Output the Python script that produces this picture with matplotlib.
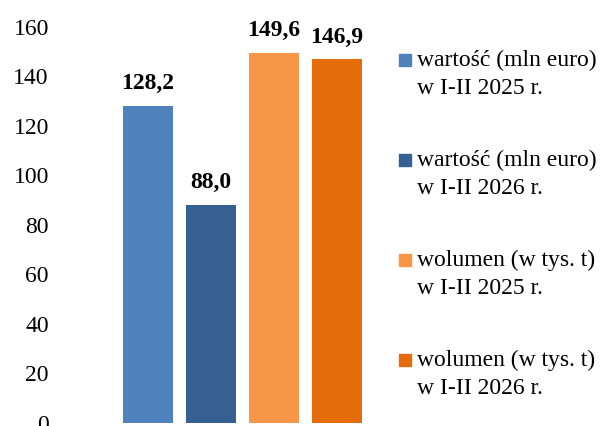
import matplotlib.pyplot as plt
from matplotlib.patches import Rectangle

plt.rcParams['font.family'] = ['Liberation Serif', 'DejaVu Serif']

# dane
labels = ["wartość (mln euro)\nw I-II 2025 r.",
          "wartość (mln euro)\nw I-II 2026 r.",
          "wolumen (w tys. t)\nw I-II 2025 r.",
          "wolumen (w tys. t)\nw I-II 2026 r."]
values = [128.2, 88.0, 149.6, 146.9]
value_text = ["128,2", "88,0", "149,6", "146,9"]
colors = ["#4F81BD", "#376092", "#F79646", "#E46C0A"]
yticks = [0, 20, 40, 60, 80, 100, 120, 140, 160]

fig = plt.figure(figsize=(6.01, 4.26), dpi=100)
W, H = 601, 426
ax = fig.add_axes([60 / W, 3.3 / H, 320 / W, 395.7 / H])

x = range(len(values))
bars = ax.bar(x, values, width=50 / 63, color=colors)
for b, t in zip(bars, value_text):
    ax.annotate(t, (b.get_x() + b.get_width() / 2, b.get_height()),
                xytext=(0, 12), textcoords='offset points',
                ha='center', va='baseline', fontsize=17, fontweight='bold')

ax.set_xlim(-88 / 63, 232 / 63)
ax.set_ylim(0, 160)
ax.set_yticks(yticks)
ax.set_xticks([])
ax.tick_params(axis='y', length=0, pad=8, labelsize=17)
for s in ax.spines.values():
    s.set_visible(False)

# legenda
for i, (lab, c) in enumerate(zip(labels, colors)):
    y1 = 60 + 100 * i
    fig.patches.append(Rectangle((399 / W, 1 - (y1 + 6) / H), 12 / W, 12 / H,
                                 transform=fig.transFigure, color=c))
    fig.text(417 / W, 1 - (y1 - 10) / H, lab, fontsize=17, va='top',
             linespacing=1.43)

fig.savefig("out.png", dpi=100)
